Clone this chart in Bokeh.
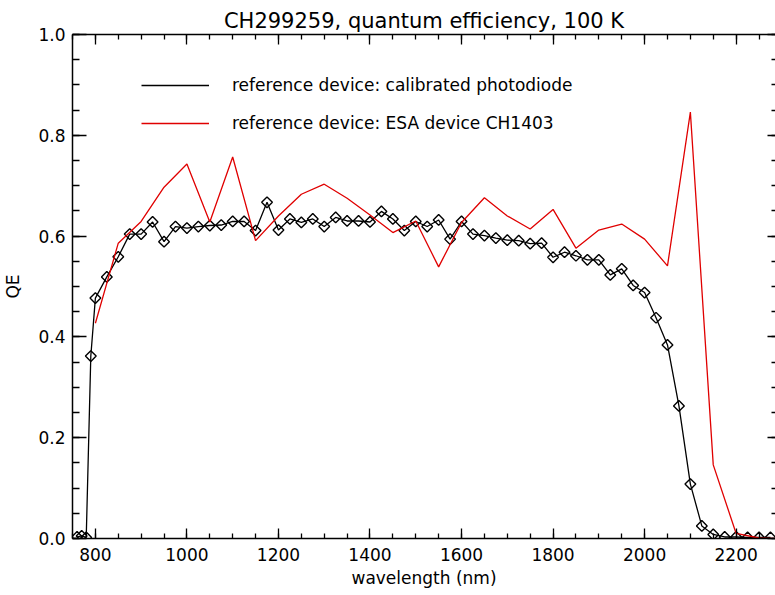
from bokeh.plotting import figure
from bokeh.models import (Range1d, LinearAxis, SingleIntervalTicker, PrintfTickFormatter,
                          Legend, LegendItem, CustomLabelingPolicy)
from bokeh.embed import file_html
from bokeh.resources import INLINE
import math

# ---- data ----
pd_wl = [760, 770, 780, 790, 800, 825, 850, 875, 900, 925, 950, 975, 1000, 1025, 1050, 1075,
         1100, 1125, 1150, 1175, 1200, 1225, 1250, 1275, 1300, 1325, 1350, 1375, 1400, 1425,
         1450, 1475, 1500, 1525, 1550, 1575, 1600, 1625, 1650, 1675, 1700, 1725, 1750, 1775,
         1800, 1825, 1850, 1875, 1900, 1925, 1950, 1975, 2000, 2025, 2050, 2075, 2100, 2125,
         2150, 2175, 2200, 2225, 2250, 2275]
pd_qe = [0.003, 0.005, 0.002, 0.362, 0.477, 0.519, 0.559, 0.604, 0.604, 0.628, 0.589, 0.619,
         0.616, 0.619, 0.621, 0.622, 0.629, 0.629, 0.611, 0.667, 0.612, 0.634, 0.627, 0.634,
         0.619, 0.637, 0.630, 0.630, 0.628, 0.649, 0.634, 0.611, 0.629, 0.619, 0.632, 0.594,
         0.629, 0.604, 0.601, 0.596, 0.592, 0.591, 0.585, 0.586, 0.558, 0.568, 0.561, 0.553,
         0.553, 0.523, 0.535, 0.502, 0.488, 0.438, 0.384, 0.263, 0.108, 0.025, 0.008, 0.003,
         0.003, 0.002, 0.002, 0.002]

esa_wl = [800, 850, 900, 950, 1000, 1050, 1100, 1150, 1200, 1250, 1300, 1350, 1400, 1450,
          1500, 1550, 1600, 1650, 1700, 1750, 1800, 1850, 1900, 1950, 2000, 2050, 2100, 2150,
          2200, 2250, 2300]
esa_qe = [0.427, 0.586, 0.629, 0.697, 0.743, 0.628, 0.757, 0.591, 0.640, 0.683, 0.703, 0.675,
          0.642, 0.607, 0.630, 0.539, 0.627, 0.676, 0.640, 0.614, 0.653, 0.576, 0.612, 0.624,
          0.594, 0.541, 0.846, 0.146, 0.010, 0.001, 0.000]

title_text = "CH299259, quantum efficiency, 100 K"
x_label = "wavelength (nm)"
y_label = "QE"
legend_labels = ["reference device: calibrated photodiode", "reference device: ESA device CH1403"]

FONT = "DejaVu Sans"
RED = "#e00000"

p = figure(width=775, height=595, output_backend="svg", toolbar_location=None,
           x_range=Range1d(750, 2286), y_range=Range1d(0, 1.0),
           min_border_left=72, min_border_right=0, min_border_top=34, min_border_bottom=57)

p.grid.visible = False
p.outline_line_color = None
p.background_fill_color = "white"
p.border_fill_color = "white"

# title
p.title.text = title_text
p.title.align = "center"
p.title.text_font = FONT
p.title.text_font_size = "21px"
p.title.text_font_style = "normal"
p.title.text_color = "black"
p.title.standoff = 3
p.title.offset = 0

xt = SingleIntervalTicker(interval=200, num_minor_ticks=4)
yt = SingleIntervalTicker(interval=0.2, num_minor_ticks=4)

def style_axis(ax, ticker, major_in, minor_in, labels=True):
    ax.ticker = ticker
    ax.axis_line_width = 1.5
    ax.axis_line_color = "black"
    ax.major_tick_in = major_in
    ax.major_tick_out = 0
    ax.minor_tick_in = minor_in
    ax.minor_tick_out = 0
    ax.major_tick_line_width = 1.3
    ax.minor_tick_line_width = 1.3
    ax.major_tick_line_color = "black"
    ax.minor_tick_line_color = "black"
    if labels:
        ax.major_label_text_font = FONT
        ax.major_label_text_font_size = "17px"
        ax.major_label_text_color = "black"
        ax.axis_label_text_font = FONT
        ax.axis_label_text_font_size = "17px"
        ax.axis_label_text_font_style = "normal"
        ax.axis_label_text_color = "black"
    else:
        # tick marks only: no tick labels are drawn on this side
        ax.major_label_policy = CustomLabelingPolicy(code="return []")
        ax.major_label_text_font_size = "0px"
        ax.major_label_standoff = 0

xa = p.xaxis[0]
style_axis(xa, xt, 10, 5)
xa.axis_label = x_label
xa.major_label_standoff = 9
xa.axis_label_standoff = 4

ya = p.yaxis[0]
style_axis(ya, yt, 14, 7)
ya.axis_label = y_label
ya.formatter = PrintfTickFormatter(format="%.1f")
ya.major_label_standoff = 7
ya.axis_label_standoff = 12

top = LinearAxis()
style_axis(top, SingleIntervalTicker(interval=200, num_minor_ticks=4), 10, 5, labels=False)
p.add_layout(top, "above")

right = LinearAxis()
style_axis(right, SingleIntervalTicker(interval=0.2, num_minor_ticks=4), 8, 4, labels=False)
right.axis_line_alpha = 0
p.add_layout(right, "right")

# data
r_black = p.line(pd_wl, pd_qe, line_color="black", line_width=1.3)
p.scatter(pd_wl, pd_qe, marker="square", angle=math.pi / 4, size=7.6,
          line_color="black", line_width=1.4, fill_alpha=0)
r_red = p.line(esa_wl, esa_qe, line_color=RED, line_width=1.3)

legend = Legend(items=[LegendItem(label=legend_labels[0], renderers=[r_black]),
                       LegendItem(label=legend_labels[1], renderers=[r_red])],
                location=(69, 405), orientation="vertical",
                glyph_width=68, glyph_height=20, label_height=20,
                label_standoff=23, spacing=18, padding=0, margin=0,
                border_line_alpha=0, background_fill_alpha=0,
                label_text_font=FONT, label_text_font_size="17px", label_text_color="black")
p.add_layout(legend, "center")

open("out.html", "w").write(file_html(p, INLINE))
